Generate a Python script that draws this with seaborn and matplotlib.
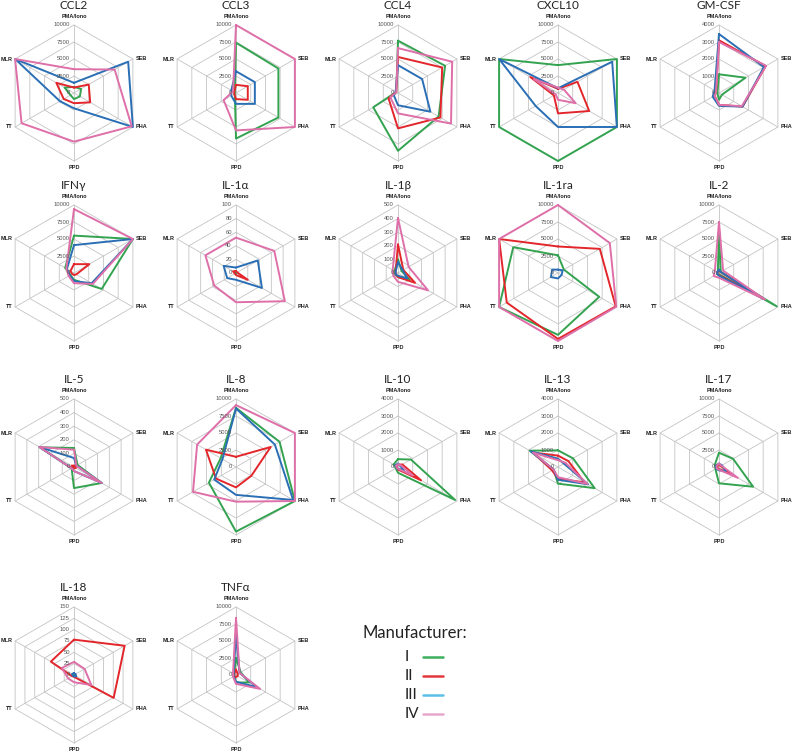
import numpy as np
import pandas as pd
import matplotlib
matplotlib.use("Agg")
import matplotlib.pyplot as plt
import seaborn as sns
from matplotlib.lines import Line2D

# stimulation axes, clockwise from top
axes_names = ["PMA/Iono", "SEB", "PHA", "PPD", "TT", "MLR"]
manufacturers = ["I", "II", "III", "IV"]
line_colors = ["#33a350", "#e3262b", "#2a6fb5", "#de6fa9"]
legend_colors = ["#3cb05c", "#e2383c", "#5cbfe8", "#e8a6cc"]

cytokines = ["CCL2", "CCL3", "CCL4", "CXCL10", "GM-CSF",
             "IFNγ", "IL-1α", "IL-1β", "IL-1ra", "IL-2",
             "IL-5", "IL-8", "IL-10", "IL-13", "IL-17",
             "IL-18", "TNFα"]

ticks_10k = [0, 2500, 5000, 7500, 10000]
ticks_4k = [0, 1000, 2000, 3000, 4000]
ticks_100 = [0, 20, 40, 60, 80, 100]
ticks_500 = [0, 100, 200, 300, 400, 500]
ticks_150 = [0, 25, 50, 75, 100, 125, 150]

# values per manufacturer I, II, III, IV in axes_names order
ccl2 = [[900, 1200, 1000, 900, 600, 1600],
        [800, 2500, 2750, 1500, 1750, 3000],
        [1500, 9200, 10000, 2250, 2400, 10000],
        [3500, 6900, 9800, 7150, 8900, 10000]]
ccl3 = [[7400, 7200, 7200, 6700, 200, 200],
        [1200, 2000, 2000, 900, 300, 300],
        [3200, 3200, 3200, 1600, 800, 800],
        [10000, 10000, 10000, 5500, 2100, 500]]
ccl4 = [[7700, 8000, 6900, 8500, 4200, 300],
        [5300, 7500, 7200, 5200, 1600, 300],
        [4100, 4100, 5500, 1800, 700, 400],
        [6600, 9200, 9000, 3000, 1300, 300]]
cxcl10 = [[4100, 10000, 10000, 10000, 10000, 10000],
          [600, 3300, 5300, 3000, 700, 4700],
          [700, 9200, 10000, 5000, 3800, 10000],
          [800, 1000, 3000, 1000, 400, 4100]]
gmcsf = [[1100, 1800, 200, 400, 100, 100],
         [3100, 3170, 1600, 700, 300, 200],
         [3470, 3050, 1600, 760, 430, 300],
         [3000, 3200, 1550, 700, 300, 200]]
ifng = [[5500, 10000, 4700, 1000, 600, 1500],
        [1300, 2600, 400, 300, 300, 600],
        [4100, 10000, 3000, 1200, 700, 1200],
        [9400, 10000, 3200, 1500, 900, 1300]]
il1a = [[1, 1, 1, 1, 1, 1],
        [3, 2, 20, 3, 2, 5],
        [8, 37, 44, 10, 15, 21],
        [52, 65, 83, 43, 37, 52]]
il1b = [[100, 30, 100, 30, 25, 30],
        [210, 45, 145, 30, 20, 20],
        [80, 40, 80, 20, 20, 20],
        [405, 90, 255, 65, 40, 45]]
il1ra = [[2600, 1000, 7000, 9100, 10000, 7600],
         [3900, 7100, 9800, 9700, 8700, 10000],
         [500, 800, 600, 800, 1200, 1000],
         [10000, 8800, 9900, 10000, 10000, 10000]]
il2 = [[6100, 300, 9800, 200, 300, 200],
       [300, 300, 7600, 300, 300, 300],
       [500, 300, 7700, 400, 300, 300],
       [7500, 700, 7800, 700, 900, 700]]
il5 = [[140, 30, 235, 155, 20, 290],
       [10, 15, 15, 10, 10, 20],
       [66, 20, 235, 30, 20, 294],
       [127, 20, 235, 30, 20, 294]]
il8 = [[8700, 7400, 10000, 9500, 4600, 2600],
       [1500, 5900, 2600, 3000, 3400, 5100],
       [8600, 6600, 9700, 4100, 3700, 2300],
       [9100, 10000, 10000, 5100, 7300, 6600]]
il10 = [[460, 880, 3880, 340, 150, 300],
        [140, 300, 1570, 150, 80, 100],
        [200, 150, 400, 100, 100, 200],
        [150, 200, 1000, 100, 80, 150]]
il13 = [[980, 1020, 2490, 980, 300, 1920],
        [670, 700, 1800, 700, 400, 1700],
        [490, 400, 2040, 750, 300, 1850],
        [400, 500, 2000, 600, 300, 1700]]
il17 = [[2100, 2400, 5800, 2400, 600, 700],
        [300, 300, 2000, 300, 300, 300],
        [500, 500, 1200, 500, 500, 500],
        [500, 400, 3200, 400, 400, 400]]
il18 = [[1, 1, 1, 1, 1, 1],
        [78, 129, 101, 4, 5, 59],
        [4, 4, 6, 3, 3, 5],
        [29, 27, 44, 16, 15, 31]]
tnfa = [[2500, 800, 2200, 1100, 300, 300],
        [800, 300, 300, 300, 300, 300],
        [6000, 600, 3600, 1000, 400, 400],
        [8400, 600, 4100, 1300, 500, 500]]

panel_values = [ccl2, ccl3, ccl4, cxcl10, gmcsf, ifng, il1a, il1b, il1ra, il2,
                il5, il8, il10, il13, il17, il18, tnfa]
panel_ticks = [ticks_10k, ticks_10k, ticks_10k, ticks_10k, ticks_4k,
               ticks_10k, ticks_100, ticks_500, ticks_10k, ticks_10k,
               ticks_500, ticks_10k, ticks_4k, ticks_4k, ticks_10k,
               ticks_150, ticks_10k]

sns.set_theme(style="white")
plt.rcParams["font.family"] = ["Liberation Sans", "DejaVu Sans"]

W, H = 796, 752
R = 68
col_x = [74, 236, 398, 558, 719]
row_y = [93, 273, 467, 675]

fig = plt.figure(figsize=(W / 100, H / 100), dpi=100)

angles = np.linspace(0, 2 * np.pi, len(axes_names), endpoint=False)
closed = np.append(angles, angles[0])
label_offsets = [((0, 6.0), "center", "center"), ((2.2, 0), "left", "center"),
                 ((2.2, 0), "left", "center"), ((0, -4.5), "center", "center"),
                 ((-1.6, 0), "right", "center"), ((-1.6, 0), "right", "center")]

for k, name in enumerate(cytokines):
    row, col = divmod(k, 5)
    cx, cy = col_x[col], row_y[row]
    ax = fig.add_axes([(cx - R) / W, 1 - (cy + R) / H, 2 * R / W, 2 * R / H],
                      projection="polar")
    ax.set_theta_offset(np.pi / 2)
    ax.set_theta_direction(-1)
    ticks = panel_ticks[k]
    rmax = ticks[-1]

    # hexagonal grid
    for t in ticks[1:]:
        ax.plot(closed, [t] * len(closed), color="#c4c4c4", lw=0.6, zorder=0, clip_on=False)
    for a in angles:
        ax.plot([a, a], [0, rmax], color="#c4c4c4", lw=0.6, zorder=0, clip_on=False)

    rows = []
    for m, vals in zip(manufacturers, panel_values[k]):
        for a, v in zip(closed, vals + [vals[0]]):
            rows.append({"theta": a, "value": v, "Manufacturer": m})
    df = pd.DataFrame(rows)
    sns.lineplot(data=df, x="theta", y="value", hue="Manufacturer",
                 hue_order=manufacturers, palette=line_colors, sort=False,
                 estimator=None, legend=False, lw=1.4, ax=ax)
    for ln in ax.get_lines():
        ln.set_clip_on(False)

    ax.set_ylim(0, rmax)
    ax.axis("off")

    for t in ticks:
        ax.annotate(f"{t}", (0, t), xytext=(-3, 0), textcoords="offset points",
                    ha="right", va="center", fontsize=4.2, color="#555555")
    for a, lab, (off, ha, va) in zip(angles, axes_names, label_offsets):
        ax.annotate(lab, (a, rmax), xytext=off, textcoords="offset points",
                    ha=ha, va=va, fontsize=4.0, fontweight="bold", color="#222222",
                    annotation_clip=False)

    fig.text(cx / W, 1 - (cy - 84) / H, name, ha="center", va="baseline",
             fontsize=8.5, family=["Lato", "DejaVu Sans"], color="#222222")

# legend
fig.text(363 / W, 1 - 633 / H, "Manufacturer:", ha="left", va="center",
         fontsize=12, family=["Lato", "DejaVu Sans"], color="#222222")
for i, (m, c) in enumerate(zip(manufacturers, legend_colors)):
    y = 1 - (657 + 19 * i) / H
    fig.text(405 / W, y, m, ha="left", va="center", fontsize=11,
             family=["Lato", "DejaVu Sans"], color="#222222")
    fig.add_artist(Line2D([423 / W, 443 / W], [y, y], transform=fig.transFigure,
                          color=c, lw=1.8))

fig.savefig("out.png", dpi=100)
